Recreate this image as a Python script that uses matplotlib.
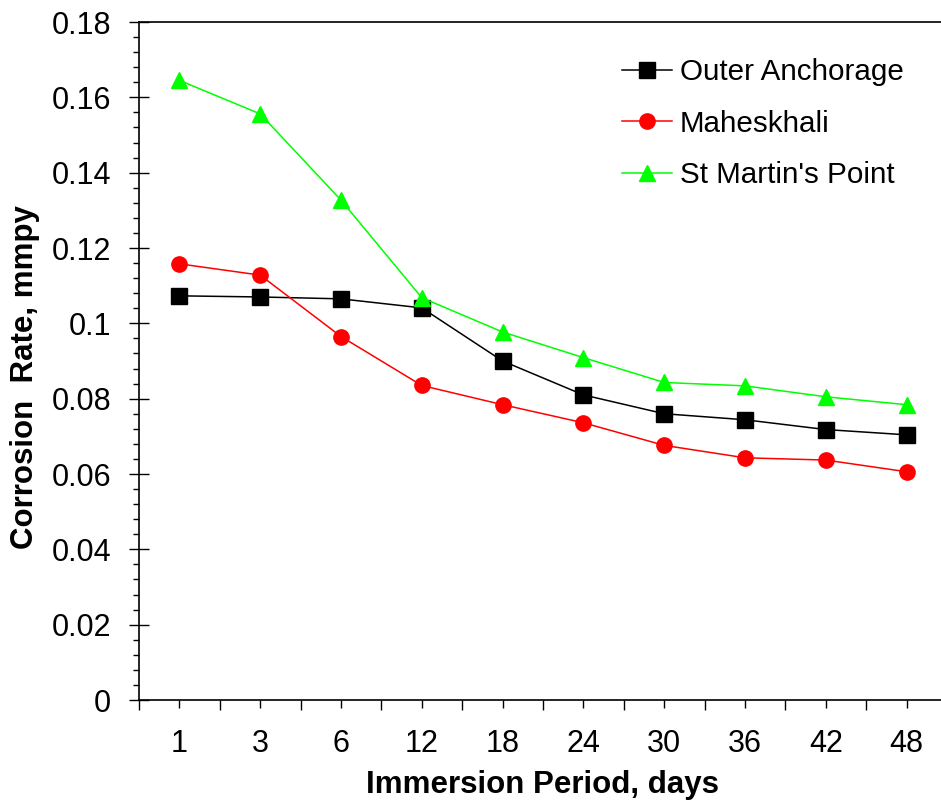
import matplotlib
matplotlib.use("Agg")
import matplotlib.pyplot as plt
from matplotlib.ticker import MultipleLocator, FixedLocator

plt.rcParams["font.family"] = ["Liberation Sans", "DejaVu Sans"]

days = ["1", "3", "6", "12", "18", "24", "30", "36", "42", "48"]
outer_anchorage = [0.1073, 0.1070, 0.1065, 0.1041, 0.0900, 0.0810, 0.0760, 0.0744, 0.0718, 0.0704]
maheskhali = [0.1158, 0.1128, 0.0965, 0.0835, 0.0784, 0.0736, 0.0676, 0.0643, 0.0637, 0.0606]
st_martins = [0.1645, 0.1556, 0.1327, 0.1068, 0.0977, 0.0909, 0.0843, 0.0834, 0.0805, 0.0784]

W, H = 941, 805
fig = plt.figure(figsize=(W / 100, H / 100), dpi=100)
ax = fig.add_axes([139 / W, 105 / H, 808 / W, 678 / H])

x = range(len(days))
ax.plot(x, outer_anchorage, color="black", lw=1.1, marker="s", ms=11.5,
        label="Outer Anchorage")
ax.plot(x, maheskhali, color="#ff0000", lw=1.1, marker="o", ms=11,
        label="Maheskhali")
ax.plot(x, st_martins, color="#00ff00", lw=1.1, marker="^", ms=12,
        label="St Martin's Point")

ax.set_xlim(-0.5, len(days) - 0.5)
ax.set_ylim(0, 0.18)

ax.set_xticks(list(x))
ax.set_xticklabels(days)
ax.xaxis.set_minor_locator(FixedLocator([i - 0.5 for i in range(len(days) + 1)]))
ax.tick_params(axis="x", which="major", direction="out", length=6, width=1,
               pad=15, labelsize=22)
ax.tick_params(axis="x", which="minor", direction="out", length=7, width=1)

ax.yaxis.set_major_locator(MultipleLocator(0.02))
ax.yaxis.set_minor_locator(MultipleLocator(0.004))
ax.set_yticklabels([f"{v:g}" for v in ax.get_yticks()])
ax.tick_params(axis="y", which="major", direction="inout", length=14, width=1,
               pad=13, labelsize=22)
ax.tick_params(axis="y", which="minor", direction="out", length=4.5, width=1)

ax.spines["right"].set_visible(False)
for s in ["left", "bottom", "top"]:
    ax.spines[s].set_linewidth(1.2)

ax.set_xlabel("Immersion Period, days", fontsize=22.5, fontweight="bold", labelpad=8)
ax.set_ylabel("Corrosion  Rate, mmpy", fontsize=22.5, fontweight="bold")
ax.yaxis.set_label_coords(-0.122, 0.476)

ax.legend(loc="upper left", bbox_to_anchor=(622 / W, 1 - 58 / H),
          bbox_transform=fig.transFigure, frameon=False, fontsize=21.3,
          handlelength=1.7, handletextpad=0.25, labelspacing=0.8,
          borderpad=0, borderaxespad=0)

fig.savefig("out.png", dpi=100)
